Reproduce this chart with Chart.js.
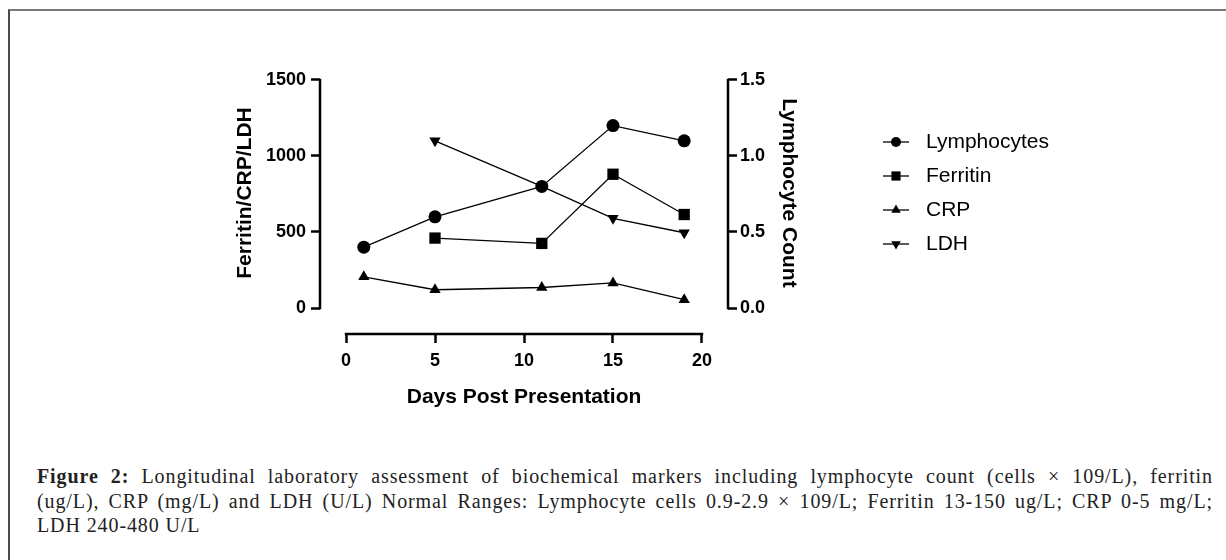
<!DOCTYPE html>
<html>
<head>
<meta charset="utf-8">
<title>Figure 2</title>
<script src="https://cdn.jsdelivr.net/npm/chart.js@4.4.1/dist/chart.umd.min.js"></script>
<style>
  html, body { margin: 0; padding: 0; background: #fff; }
  body { width: 1226px; height: 560px; position: relative; overflow: hidden; }
  .frame {
    position: absolute; left: 8px; top: 9px; right: -10px; bottom: -10px;
    border-top: 2px solid #7a7a7a; border-left: 2px solid #4a4a4a;
  }
  #chart { position: absolute; left: 0; top: 0; }
  .caption {
    position: absolute; left: 37px; top: 464px; width: 1176px;
    font-family: 'Liberation Serif', 'Times New Roman', serif;
    font-size: 20px; line-height: 24.5px; letter-spacing: 0.9px; color: #222;
  }
  .caption .j { text-align: justify; text-align-last: justify; }
</style>
</head>
<body>
<div class="frame"></div>
<canvas id="chart" width="1226" height="420"></canvas>
<div class="caption">
  <div class="j"><b>Figure 2:</b> Longitudinal laboratory assessment of biochemical markers including lymphocyte count (cells × 109/L), ferritin</div>
  <div class="j">(ug/L), CRP (mg/L) and LDH (U/L) Normal Ranges: Lymphocyte cells 0.9-2.9 × 109/L; Ferritin 13-150 ug/L; CRP 0-5 mg/L;</div>
  <div>LDH 240-480 U/L</div>
</div>
<script>
// values
const days = [1, 5, 11, 15, 19];
const lymphocytes = [0.4, 0.6, 0.8, 1.2, 1.1];
const ferritin = [null, 460, 425, 880, 615];
const crp = [205, 120, 135, 165, 55];
const ldh = [null, 1100, 800, 590, 495];

const seriesNames = ['Lymphocytes', 'Ferritin', 'CRP', 'LDH'];
const xTicks = [0, 5, 10, 15, 20];
const leftTicks = [0, 500, 1000, 1500];
const rightTicks = [0, 0.5, 1.0, 1.5];

const xTitle = 'Days Post Presentation';
const leftTitle = 'Ferritin/CRP/LDH';
const rightTitle = 'Lymphocyte Count';

Chart.defaults.font.family = "'Liberation Sans', Arial, sans-serif";
Chart.defaults.color = '#000';

// marker shapes, Prism style
const markers = [
    { style: 'circle', radius: 6.5, rotation: 0, legendRadius: 5 },
    { style: 'rect', radius: 8, rotation: 0, legendRadius: 6.5 },
    { style: 'triangle', radius: 6.5, rotation: 0, legendRadius: 5.5 },
    { style: 'triangle', radius: 6.5, rotation: 180, legendRadius: 5.5 }
];

function toPoints(values) {
    return days.map((d, i) => ({ x: d, y: values[i] }));
}

// small line + marker picture for each legend entry
function legendIcon(m) {
    const c = document.createElement('canvas');
    c.width = 26;
    c.height = 16;
    const g = c.getContext('2d');
    g.strokeStyle = '#000';
    g.lineWidth = 1.3;
    g.beginPath();
    g.moveTo(0, 8);
    g.lineTo(26, 8);
    g.stroke();
    g.fillStyle = '#000';
    Chart.helpers.drawPoint(g, { pointStyle: m.style, radius: m.legendRadius, rotation: m.rotation, borderWidth: 0 }, 13, 8);
    return c;
}
const legendIcons = markers.map(legendIcon);

// axis lines that only span the tick range (detached axes)
const prismAxes = {
    id: 'prismAxes',
    afterDraw(chart) {
        const { ctx, chartArea, scales } = chart;
        ctx.save();
        ctx.strokeStyle = '#000';
        ctx.lineWidth = 2.5;
        ctx.lineCap = 'square';
        ctx.beginPath();
        ctx.moveTo(scales.x.getPixelForValue(xTicks[0]), chartArea.bottom);
        ctx.lineTo(scales.x.getPixelForValue(xTicks[xTicks.length - 1]), chartArea.bottom);
        ctx.moveTo(chartArea.left, scales.y.getPixelForValue(leftTicks[0]));
        ctx.lineTo(chartArea.left, scales.y.getPixelForValue(leftTicks[leftTicks.length - 1]));
        ctx.moveTo(chartArea.right, scales.y1.getPixelForValue(rightTicks[0]));
        ctx.lineTo(chartArea.right, scales.y1.getPixelForValue(rightTicks[rightTicks.length - 1]));
        ctx.stroke();
        ctx.restore();
    }
};

function makeDataset(label, values, axis, m) {
    return {
        label: label,
        data: toPoints(values),
        yAxisID: axis,
        borderColor: '#000',
        backgroundColor: '#000',
        borderWidth: 1.3,
        tension: 0,
        pointStyle: m.style,
        pointRadius: m.radius,
        pointRotation: m.rotation,
        pointBackgroundColor: '#000',
        pointBorderColor: '#000',
        pointBorderWidth: 0,
        pointHoverRadius: m.radius
    };
}

const tickFont = { size: 18, weight: 'bold' };
const titleFont = { size: 21, weight: 'bold' };
const tickGrid = { drawOnChartArea: false, drawTicks: true, tickLength: 9, tickWidth: 2.5, tickColor: '#000' };

new Chart(document.getElementById('chart').getContext('2d'), {
    type: 'line',
    data: {
        datasets: [
            makeDataset(seriesNames[0], lymphocytes, 'y1', markers[0]),
            makeDataset(seriesNames[1], ferritin, 'y', markers[1]),
            makeDataset(seriesNames[2], crp, 'y', markers[2]),
            makeDataset(seriesNames[3], ldh, 'y', markers[3])
        ]
    },
    options: {
        responsive: false,
        animation: false,
        layout: {
            padding: { left: 220, right: 172.5, top: 52, bottom: 6 }
        },
        plugins: {
            tooltip: { enabled: false },
            legend: {
                position: 'right',
                align: 'center',
                fullSize: false,
                maxWidth: 190,
                labels: {
                    usePointStyle: true,
                    pointStyleWidth: 39,
                    boxWidth: 39,
                    padding: 13,
                    color: '#000',
                    font: { size: 21 },
                    generateLabels: (chart) => chart.data.datasets.map((ds, i) => ({
                        text: ds.label,
                        pointStyle: legendIcons[i],
                        fillStyle: '#000',
                        strokeStyle: '#000',
                        lineWidth: 0,
                        hidden: false,
                        datasetIndex: i
                    }))
                }
            }
        },
        scales: {
            x: {
                type: 'linear',
                min: -1.4607,
                max: 21.4607,
                afterBuildTicks: (s) => { s.ticks = xTicks.map(v => ({ value: v })); },
                afterFit: (s) => { s.height = 80; },
                border: { display: false },
                grid: tickGrid,
                ticks: { padding: 7, font: tickFont, color: '#000', maxRotation: 0, callback: (v) => String(v) },
                title: { display: true, text: xTitle, font: titleFont, color: '#000', padding: { top: 0, bottom: 4 } }
            },
            y: {
                type: 'linear',
                position: 'left',
                min: -171.05,
                max: 1684.2,
                afterBuildTicks: (s) => { s.ticks = leftTicks.map(v => ({ value: v })); },
                afterFit: (s) => { s.width = 100; },
                border: { display: false },
                grid: tickGrid,
                ticks: { padding: 5, font: tickFont, color: '#000', callback: (v) => String(v) },
                title: { display: true, text: leftTitle, font: titleFont, color: '#000', padding: { top: 12.4, bottom: 0 } }
            },
            y1: {
                type: 'linear',
                position: 'right',
                min: -0.17105,
                max: 1.6842,
                afterBuildTicks: (s) => { s.ticks = rightTicks.map(v => ({ value: v })); },
                afterFit: (s) => { s.width = 135.5; },
                border: { display: false },
                grid: tickGrid,
                ticks: { padding: 3, font: tickFont, color: '#000', callback: (v) => v.toFixed(1) },
                title: { display: true, text: rightTitle, font: titleFont, color: '#000', padding: { top: 61.9, bottom: 0 } }
            }
        }
    },
    plugins: [prismAxes]
});
</script>
</body>
</html>
